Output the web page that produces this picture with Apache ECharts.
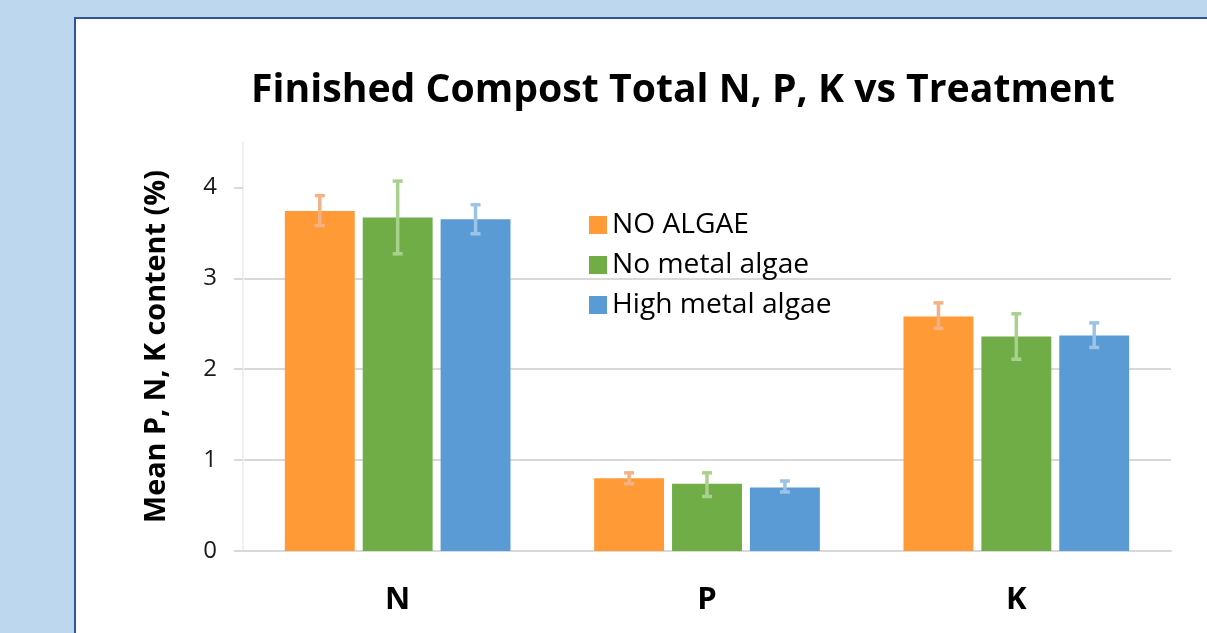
<!DOCTYPE html>
<html>
<head>
<meta charset="utf-8">
<script src="https://cdn.jsdelivr.net/npm/echarts@6/dist/echarts.min.js"></script>
<style>
html,body{margin:0;padding:0;background:#bdd7ee;}
#c{width:1207px;height:633px;}
</style>
</head>
<body>
<div id="c"></div>
<script>
const categories = ['N', 'P', 'K'];
const seriesNames = ['NO ALGAE', 'No metal algae', 'High metal algae'];
const noAlgae = [3.74, 0.80, 2.58];
const noMetalAlgae = [3.67, 0.74, 2.36];
const highMetalAlgae = [3.65, 0.70, 2.37];
const noAlgaeErr = [[3.58, 3.91], [0.74, 0.86], [2.45, 2.73]];
const noMetalAlgaeErr = [[3.27, 4.07], [0.60, 0.86], [2.11, 2.61]];
const highMetalAlgaeErr = [[3.49, 3.81], [0.65, 0.77], [2.24, 2.51]];
const yTicks = [0, 1, 2, 3, 4];
const titleText = 'Finished Compost Total N, P, K vs Treatment';
const yName = 'Mean P, N, K content (%)';

const barColors = ['#ff9a36', '#70ad47', '#5b9bd5'];
const errColors = ['#f4b183', '#a9d18e', '#9dc3e6'];
const FONT = 'Open Sans';
const BAR_W = 0.226, BAR_GAP = 0.114;

const cv = document.createElement('canvas').getContext('2d');
function fit(text, weight, target) {
  cv.font = weight + ' 100px "' + FONT + '"';
  const w = cv.measureText(text).width;
  return Math.round(100 * target / w * 10) / 10;
}
const titleSize = fit(titleText, 'bold', 865);
const yNameSize = fit(yName, 'bold', 353);
const legendSize = fit('NO ALGAE', 'normal', 137);

function errSeries(idx, errs) {
  return {
    type: 'custom',
    name: seriesNames[idx] + ' err',
    z: 5,
    data: errs.map((e, i) => [i, e[0], e[1]]),
    renderItem: function (params, api) {
      const band = api.size([1, 0])[0];
      const bw = band * BAR_W;
      const off = (idx - 1) * bw * (1 + BAR_GAP);
      const lo = api.coord([api.value(0), api.value(1)]);
      const hi = api.coord([api.value(0), api.value(2)]);
      const x = lo[0] + off;
      const cap = 5;
      const st = { stroke: errColors[idx], lineWidth: 3.5, fill: null };
      return {
        type: 'group',
        children: [
          { type: 'line', shape: { x1: x, y1: hi[1], x2: x, y2: lo[1] }, style: st },
          { type: 'line', shape: { x1: x - cap, y1: hi[1], x2: x + cap, y2: hi[1] }, style: st },
          { type: 'line', shape: { x1: x - cap, y1: lo[1], x2: x + cap, y2: lo[1] }, style: st }
        ]
      };
    }
  };
}

const chart = echarts.init(document.getElementById('c'), null, { renderer: 'canvas' });
chart.setOption({
  backgroundColor: '#bdd7ee',
  animation: false,
  graphic: [{
    type: 'rect', z: -10, silent: true,
    shape: { x: 75, y: 18, width: 1200, height: 700 },
    style: { fill: '#ffffff', stroke: '#2f5597', lineWidth: 2 }
  }],
  title: {
    text: titleText,
    left: 246, top: 66,
    textStyle: { fontFamily: FONT, fontWeight: 'bold', fontSize: titleSize, color: '#000' }
  },
  legend: {
    orient: 'vertical', left: 584, top: 206,
    itemWidth: 18, itemHeight: 18, itemGap: 12,
    icon: 'rect',
    data: seriesNames,
    textStyle: { fontFamily: FONT, fontSize: legendSize, color: '#000', padding: [0, 0, 0, 0] }
  },
  grid: { left: 243, right: 36, top: 142, bottom: 82, containLabel: false },
  xAxis: {
    type: 'category', data: categories,
    axisLine: { show: true, lineStyle: { color: '#d9d9d9', width: 2 } },
    axisTick: { show: false },
    axisLabel: { fontFamily: FONT, fontWeight: 'bold', fontSize: 31, color: '#000', margin: 34 }
  },
  yAxis: {
    type: 'value', min: 0, max: 4.5, interval: 1,
    name: yName,
    nameLocation: 'middle', nameGap: 72, nameRotate: 90,
    nameTextStyle: { fontFamily: FONT, fontWeight: 'bold', fontSize: yNameSize, color: '#000' },
    axisLine: { show: true, lineStyle: { color: '#f0f0f0', width: 2 } },
    axisTick: { show: true, length: 9, lineStyle: { color: '#d9d9d9', width: 2 }, customValues: yTicks },
    axisLabel: { fontFamily: FONT, fontSize: 24, color: '#1a1a1a', margin: 26, customValues: yTicks },
    splitLine: { show: true, showMaxLine: false, lineStyle: { color: '#d9d9d9', width: 2 } }
  },
  series: [
    { type: 'bar', name: seriesNames[0], data: noAlgae, barWidth: (BAR_W * 100) + '%', barGap: (BAR_GAP * 100) + '%', itemStyle: { color: barColors[0] } },
    { type: 'bar', name: seriesNames[1], data: noMetalAlgae, barWidth: (BAR_W * 100) + '%', barGap: (BAR_GAP * 100) + '%', itemStyle: { color: barColors[1] } },
    { type: 'bar', name: seriesNames[2], data: highMetalAlgae, barWidth: (BAR_W * 100) + '%', barGap: (BAR_GAP * 100) + '%', itemStyle: { color: barColors[2] } },
    errSeries(0, noAlgaeErr),
    errSeries(1, noMetalAlgaeErr),
    errSeries(2, highMetalAlgaeErr)
  ]
});
</script>
</body>
</html>
